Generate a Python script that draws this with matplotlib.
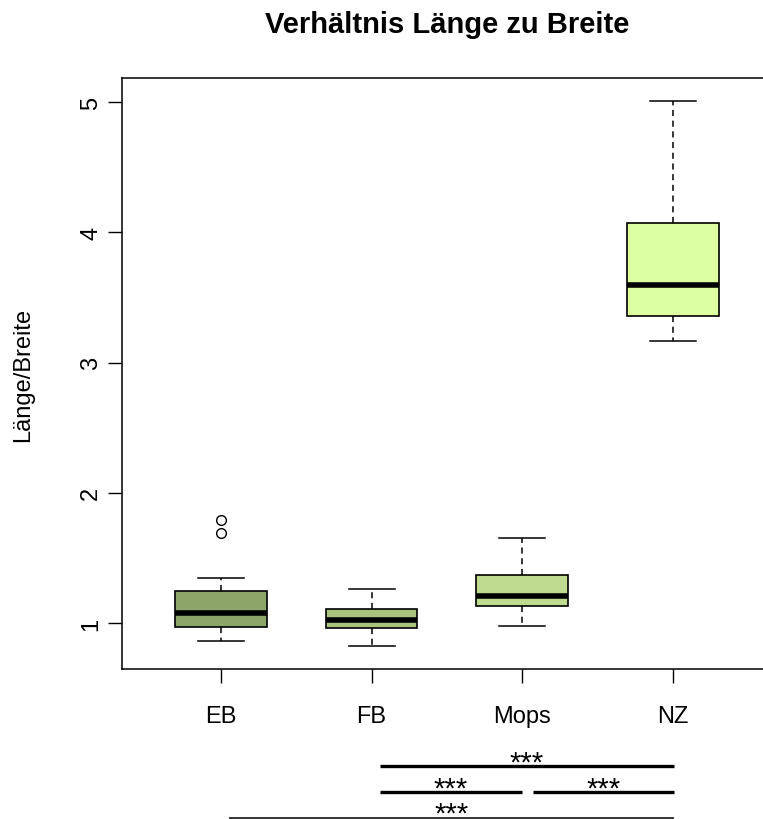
import matplotlib
matplotlib.use("Agg")
import matplotlib.pyplot as plt
import matplotlib.transforms as mtransforms

# ---- data ----
categories = ["EB", "FB", "Mops", "NZ"]
whislo = [0.864, 0.821, 0.979, 3.168]
q1 = [0.972, 0.959, 1.128, 3.356]
med = [1.074, 1.025, 1.210, 3.596]
q3 = [1.248, 1.108, 1.371, 4.072]
whishi = [1.348, 1.261, 1.651, 5.012]
fliers = [[1.791, 1.689], [], [], []]
box_colors = ["#8fa66a", "#a8c47c", "#bfdb8f", "#ddffa2"]
yticks = [1, 2, 3, 4, 5]

# significance comparisons (x in data units)
sig_x0 = [2.055, 2.055, 3.07, 1.05]
sig_x1 = [4.01, 3.0, 4.01, 4.01]
sig_labels = ["***", "***", "***", "***"]

W, H = 763, 820
fig = plt.figure(figsize=(W / 100, H / 100), dpi=100)
plt.rcParams['font.family'] = ['Liberation Sans', 'DejaVu Sans']

left, right, top, bottom = 121.7, 772.0, 79.3, 670.0
ax = fig.add_axes([left / W, 1 - bottom / H, (right - left) / W, (bottom - top) / H])

stats = []
for i, c in enumerate(categories):
    stats.append(dict(label=c, whislo=whislo[i], q1=q1[i], med=med[i],
                      q3=q3[i], whishi=whishi[i], fliers=fliers[i]))

bp = ax.bxp(stats, positions=[1, 2, 3, 4], widths=0.61, patch_artist=True,
            showfliers=True,
            boxprops=dict(edgecolor='black', linewidth=1.2),
            medianprops=dict(color='black', linewidth=4.0, solid_capstyle='butt'),
            whiskerprops=dict(color='black', linewidth=1.1, linestyle=(0, (4, 3))),
            capprops=dict(color='black', linewidth=1.1),
            capwidths=0.305,
            flierprops=dict(marker='o', markerfacecolor='none', markeredgecolor='black',
                            markersize=7, markeredgewidth=1.0))
for patch, col in zip(bp['boxes'], box_colors):
    patch.set_facecolor(col)

ax.set_xlim(0.34, 4.66)
ax.set_ylim(0.647, 5.184)
ax.set_yticks(yticks)
ax.set_yticklabels([str(v) for v in yticks], rotation=90, va='center')
ax.set_xticks([1, 2, 3, 4])
ax.set_xticklabels(categories)
ax.tick_params(axis='both', length=10, width=1.0, labelsize=17)
ax.tick_params(axis='x', pad=16)
ax.tick_params(axis='y', pad=4)
for s in ax.spines.values():
    s.set_linewidth(1.1)
ax.set_ylabel("Länge/Breite", fontsize=17, labelpad=33.5)

fig.text(((left + right) / 2) / W, 1 - 33 / H, "Verhältnis Länge zu Breite",
         ha='center', va='baseline', fontsize=21, fontweight='bold')

# significance bars below the plot
trans = mtransforms.blended_transform_factory(ax.transData, fig.transFigure)
line_y = [767.3, 793.3, 793.3, 819.0]
line_w = [2.4, 2.4, 2.4, 1.1]
for x0, x1, ly, lw, lab in zip(sig_x0, sig_x1, line_y, line_w, sig_labels):
    ax.plot([x0, x1], [1 - ly / H] * 2, color='black', lw=lw, transform=trans,
            clip_on=False, solid_capstyle='butt')
    ax.text((x0 + x1) / 2, 1 - (ly + 4) / H, lab, transform=trans, ha='center',
            va='baseline', fontsize=21, clip_on=False)

fig.savefig("out.png", dpi=100)
